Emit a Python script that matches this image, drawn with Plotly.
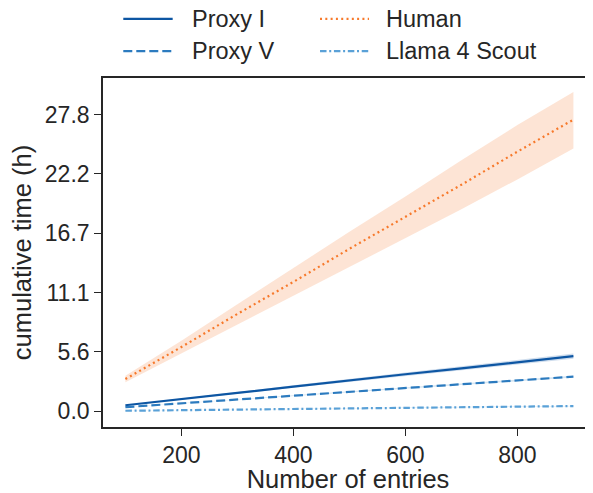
import plotly.graph_objects as go

entries = [100, 200, 300, 400, 500, 600, 700, 800, 900]

proxy_i = [0.55, 1.10, 1.70, 2.30, 2.90, 3.45, 4.00, 4.60, 5.15]
proxy_i_lo = [0.52, 1.05, 1.62, 2.19, 2.76, 3.28, 3.80, 4.37, 4.90]
proxy_i_hi = [0.58, 1.15, 1.78, 2.41, 3.04, 3.62, 4.20, 4.83, 5.40]

proxy_v = [0.37, 0.73, 1.08, 1.44, 1.80, 2.16, 2.51, 2.87, 3.23]
proxy_v_lo = [0.36, 0.71, 1.05, 1.40, 1.75, 2.10, 2.44, 2.79, 3.14]
proxy_v_hi = [0.38, 0.75, 1.11, 1.48, 1.85, 2.22, 2.58, 2.95, 3.32]

human = [3.0, 6.0, 9.1, 12.1, 15.2, 18.2, 21.2, 24.3, 27.3]
human_lo = [2.7, 5.4, 8.1, 10.8, 13.5, 16.2, 18.9, 21.7, 24.6]
human_hi = [3.3, 6.6, 10.0, 13.4, 16.8, 20.1, 23.5, 26.8, 29.9]

llama = [0.03, 0.09, 0.14, 0.20, 0.25, 0.31, 0.36, 0.42, 0.47]
llama_lo = [0.02, 0.08, 0.13, 0.18, 0.23, 0.28, 0.33, 0.39, 0.43]
llama_hi = [0.04, 0.10, 0.15, 0.22, 0.27, 0.34, 0.39, 0.45, 0.51]

series_names = ["Proxy I", "Proxy V", "Human", "Llama 4 Scout"]
y_tick_vals = [0.0, 20000 / 3600, 40000 / 3600, 60000 / 3600, 80000 / 3600, 100000 / 3600]
y_tick_text = ["0.0", "5.6", "11.1", "16.7", "22.2", "27.8"]
x_tick_vals = [200, 400, 600, 800]

FONT = "Liberation Sans, Arial, sans-serif"
DARK = "#262626"

# name, values, lower, upper, color, fill, dash, legend column, legend row
specs = [
    (series_names[0], proxy_i, proxy_i_lo, proxy_i_hi, "#0d56a3", "rgba(13,86,163,0.2)", "solid", 0, 0),
    (series_names[1], proxy_v, proxy_v_lo, proxy_v_hi, "#2c7bbf", "rgba(44,123,191,0.2)", "9px,4px", 0, 1),
    (series_names[2], human, human_lo, human_hi, "#f7792b", "rgba(247,121,43,0.2)", "2px,3.3px", 1, 0),
    (series_names[3], llama, llama_lo, llama_hi, "#5aa1d7", "rgba(90,161,215,0.2)", "6.5px,2.7px,2px,2.7px", 1, 1),
]

fig = go.Figure()
for name, y, lo, hi, col, fill, dash, c, r in specs:
    fig.add_trace(go.Scatter(x=entries + entries[::-1], y=hi + lo[::-1], fill="toself",
                             fillcolor=fill, line=dict(width=0), mode="lines",
                             showlegend=False, hoverinfo="skip"))
for name, y, lo, hi, col, fill, dash, c, r in specs:
    fig.add_trace(go.Scatter(x=entries, y=y, mode="lines", name=name, showlegend=False,
                             line=dict(color=col, width=2.2, dash=dash)))

# hand-drawn legend (two columns above the axes, no frame)
leg_sym_x0 = [0.0414, 0.4429]
leg_sym_x1 = [0.1422, 0.5429]
leg_txt_x = [0.179, 0.5755]
leg_row_y = [1.1695, 1.0769]
for name, y, lo, hi, col, fill, dash, c, r in specs:
    fig.add_shape(type="line", xref="paper", yref="paper", x0=leg_sym_x0[c], x1=leg_sym_x1[c],
                  y0=leg_row_y[r], y1=leg_row_y[r], line=dict(color=col, width=2.2, dash=dash))
    fig.add_annotation(xref="paper", yref="paper", x=leg_txt_x[c], y=leg_row_y[r], text=name,
                       showarrow=False, xanchor="left", yanchor="middle", borderpad=0,
                       font=dict(size=23.5, color=DARK, family=FONT))

fig.update_layout(
    width=585, height=485,
    margin=dict(l=95, r=0, t=70, b=64),
    paper_bgcolor="white", plot_bgcolor="white",
    font=dict(family=FONT, size=23, color=DARK),
    showlegend=False,
)

fig.update_xaxes(range=[60, 935], tickvals=x_tick_vals, showline=True, linecolor=DARK,
                 linewidth=1.6, mirror=True, ticks="outside", ticklen=7, tickwidth=1.4,
                 tickcolor=DARK, showgrid=False, zeroline=False,
                 title=dict(text="Number of entries", font=dict(size=25.5), standoff=7),
                 tickfont=dict(size=23))
fig.update_yaxes(range=[-1.49, 31.2], tickvals=y_tick_vals, ticktext=y_tick_text,
                 showline=True, linecolor=DARK, linewidth=1.6, ticks="outside", ticklen=7,
                 tickwidth=1.4, tickcolor=DARK, showgrid=False, zeroline=False,
                 title=dict(text="cumulative time (h)", font=dict(size=25.5), standoff=8),
                 tickfont=dict(size=23))

fig.write_html("out.html")
